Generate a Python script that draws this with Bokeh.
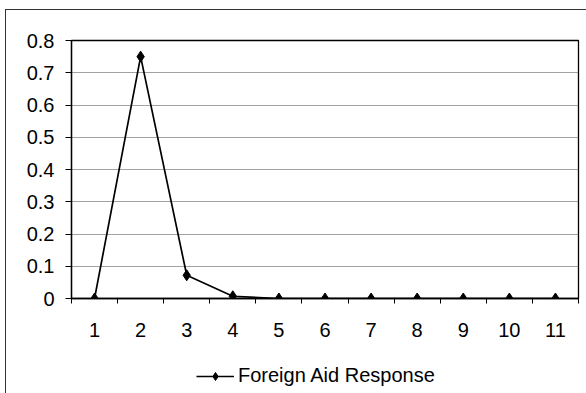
from bokeh.plotting import figure
from bokeh.layouts import column
from bokeh.models import Range1d, FixedTicker, Legend, LegendItem
from bokeh.embed import file_html
from bokeh.resources import INLINE

# Response by period
periods = [1, 2, 3, 4, 5, 6, 7, 8, 9, 10, 11]
response = [0.0, 0.75, 0.072, 0.007, 0.0, 0.0, 0.0, 0.0, 0.0, 0.0, 0.0]
y_ticks = [0, 0.1, 0.2, 0.3, 0.4, 0.5, 0.6, 0.7, 0.8]
y_labels = ["0", "0.1", "0.2", "0.3", "0.4", "0.5", "0.6", "0.7", "0.8"]
series_name = "Foreign Aid Response"

FONT = "Liberation Sans"
FS = "20px"
INK = "#000"

p = figure(width=581, height=341, output_backend="svg", toolbar_location=None,
           x_range=Range1d(0.5, 11.5), y_range=Range1d(0, 0.8),
           min_border_left=65, min_border_right=9, min_border_top=30,
           min_border_bottom=53)
p.styles = {"border-left": "1px solid #333", "border-top": "1px solid #333"}

p.background_fill_color = "white"
p.border_fill_color = "white"
p.outline_line_color = INK
p.outline_line_width = 1.3

# x axis: labels at the category centres, tick marks between categories
p.xaxis.ticker = FixedTicker(ticks=periods,
                             minor_ticks=[k + 0.5 for k in range(0, 12)])
p.xaxis.major_tick_out = 0
p.xaxis.major_tick_in = 0
p.xaxis.minor_tick_out = 5
p.xaxis.minor_tick_in = 0
p.xaxis.minor_tick_line_color = INK
p.xaxis.axis_line_color = INK
p.xaxis.axis_line_width = 1.3
p.xaxis.major_label_standoff = 19
p.xaxis.major_label_text_font = FONT
p.xaxis.major_label_text_font_size = FS
p.xaxis.major_label_text_color = INK

# y axis
p.yaxis.ticker = FixedTicker(ticks=y_ticks)
p.yaxis.major_label_overrides = {t: s for t, s in zip(y_ticks, y_labels)}
p.yaxis.minor_tick_line_color = None
p.yaxis.major_tick_out = 6
p.yaxis.major_tick_in = 0
p.yaxis.major_tick_line_color = INK
p.yaxis.axis_line_color = INK
p.yaxis.axis_line_width = 1.3
p.yaxis.major_label_standoff = 11
p.yaxis.major_label_text_font = FONT
p.yaxis.major_label_text_font_size = FS
p.yaxis.major_label_text_color = INK

p.xgrid.grid_line_color = None
p.ygrid.grid_line_color = "#444"
p.ygrid.grid_line_dash = "1 1"
p.ygrid.grid_line_width = 1

line_style = dict(line_color=INK, line_width=1.7)
marker_style = dict(marker="diamond", size=11, fill_color=INK, line_color=INK)

p.line(periods, response, **line_style)
p.scatter(periods, response, **marker_style)

# Legend strip underneath the chart; its key renderers sit outside the
# strip's visible range so only the legend entry shows
lg = figure(width=581, height=43, output_backend="svg", toolbar_location=None,
            x_range=Range1d(-20, -19), y_range=Range1d(0, 1),
            x_axis_location=None, y_axis_location=None,
            min_border=0)
lg.styles = {"border-left": "1px solid #333"}
lg.outline_line_color = None
lg.grid.grid_line_color = None
lg.background_fill_color = "white"
lg.border_fill_color = "white"
key_line = lg.line(periods, response, **line_style)
key_pts = lg.scatter(periods, response, **dict(marker_style, size=9))

legend = Legend(items=[LegendItem(label=series_name, renderers=[key_line, key_pts])],
                location=(125, 6), orientation="horizontal",
                glyph_width=38, glyph_height=20, label_standoff=4,
                padding=0, margin=0, spacing=0,
                border_line_color=None, background_fill_alpha=0,
                label_text_font=FONT, label_text_font_size=FS,
                label_text_color=INK)
lg.add_layout(legend, "center")

page = column(p, lg, spacing=0)
page.margin = (9, 0, 0, 5)

open("out.html", "w").write(file_html(page, INLINE))
